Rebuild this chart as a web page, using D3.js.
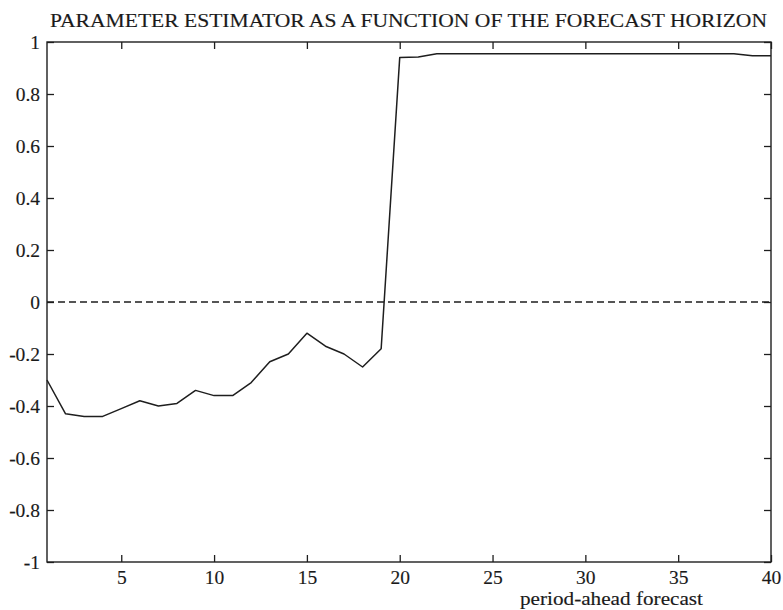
<!DOCTYPE html>
<html>
<head>
<meta charset="utf-8">
<script src="https://cdn.jsdelivr.net/npm/d3@7"></script>
<style>
  html, body { margin: 0; padding: 0; background: #fff; }
  svg text { font-family: "Liberation Serif", "Times New Roman", Times, serif !important; fill: #1a1a1a; stroke: #1a1a1a; stroke-width: 0.15px; }
</style>
</head>
<body>
<svg id="chart" width="783" height="610"></svg>
<script>
(function () {
// ---- data ----
const horizons = d3.range(1, 41);
const estimates = [
  -0.30, -0.43, -0.44, -0.44, -0.41, -0.38, -0.40, -0.39, -0.34, -0.36,
  -0.36, -0.31, -0.23, -0.20, -0.12, -0.17, -0.20, -0.25, -0.18, 0.940,
   0.942, 0.955, 0.955, 0.955, 0.955, 0.955, 0.955, 0.955, 0.955, 0.955,
   0.955, 0.955, 0.955, 0.955, 0.955, 0.955, 0.955, 0.955, 0.947, 0.947
];
const xTicks = [5, 10, 15, 20, 25, 30, 35, 40];
const yTicks = [-1, -0.8, -0.6, -0.4, -0.2, 0, 0.2, 0.4, 0.6, 0.8, 1];
const yTickLabels = ["-1", "-0.8", "-0.6", "-0.4", "-0.2", "0", "0.2", "0.4", "0.6", "0.8", "1"];
const titleText = "PARAMETER ESTIMATOR AS A FUNCTION OF THE FORECAST HORIZON";
const xLabelText = "period-ahead forecast";

// ---- layout ----
const svg = d3.select("#chart");
const L = 47, R = 771, T = 42, B = 562;
const x = d3.scaleLinear().domain([1, 40]).range([L, R]);
const y = d3.scaleLinear().domain([-1, 1]).range([B, T]);
const ink = "#1e1e1e";
const tickLen = 7;

// frame
svg.append("rect")
  .attr("x", L).attr("y", T).attr("width", R - L).attr("height", B - T)
  .attr("fill", "none").attr("stroke", ink).attr("stroke-width", 1.4);

// axes with inward ticks
const fmtY = d => yTickLabels[yTicks.indexOf(d)];
const fmtX = d => String(d);

const gBottom = svg.append("g").attr("transform", `translate(0,${B})`)
  .call(d3.axisBottom(x).tickValues(xTicks).tickSizeInner(-tickLen).tickSizeOuter(0).tickPadding(8).tickFormat(fmtX));
const gTop = svg.append("g").attr("transform", `translate(0,${T})`)
  .call(d3.axisTop(x).tickValues(xTicks).tickSizeInner(-tickLen).tickSizeOuter(0).tickFormat(""));
const gLeft = svg.append("g").attr("transform", `translate(${L},0)`)
  .call(d3.axisLeft(y).tickValues(yTicks).tickSizeInner(-tickLen).tickSizeOuter(0).tickPadding(7).tickFormat(fmtY));
const gRight = svg.append("g").attr("transform", `translate(${R},0)`)
  .call(d3.axisRight(y).tickValues(yTicks).tickSizeInner(-tickLen).tickSizeOuter(0).tickFormat(""));

[gBottom, gTop, gLeft, gRight].forEach(g => {
  g.select(".domain").remove();
  g.selectAll(".tick line").attr("stroke", ink).attr("stroke-width", 1.3);
});
gBottom.selectAll(".tick text").attr("font-size", 19.5);
gLeft.selectAll(".tick text").attr("font-size", 19.5);

// zero reference line (dashed)
svg.append("line")
  .attr("x1", x(1)).attr("x2", x(40))
  .attr("y1", y(0)).attr("y2", y(0))
  .attr("stroke", ink).attr("stroke-width", 1.3)
  .attr("stroke-dasharray", "7,4");

// data line
const line = d3.line().x((d, i) => x(horizons[i])).y(d => y(d));
svg.append("path")
  .datum(estimates)
  .attr("d", line)
  .attr("fill", "none").attr("stroke", ink).attr("stroke-width", 1.5)
  .attr("stroke-linejoin", "round");

// title
svg.append("text")
  .attr("x", 50).attr("y", 26.5)
  .attr("font-size", 18.5)
  .attr("textLength", 717).attr("lengthAdjust", "spacingAndGlyphs")
  .text(titleText);

// x-axis label
svg.append("text")
  .attr("x", 520).attr("y", 604.5)
  .attr("font-size", 18)
  .attr("textLength", 183).attr("lengthAdjust", "spacingAndGlyphs")
  .text(xLabelText);
})();
</script>
</body>
</html>
